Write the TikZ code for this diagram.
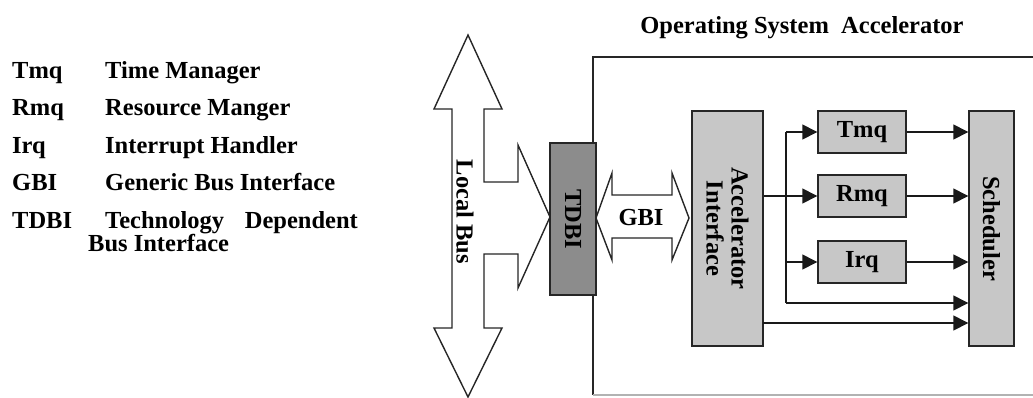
\documentclass[tikz,border=0pt]{standalone}
\usepackage{fontspec}
\setmainfont{Liberation Serif}
\usetikzlibrary{arrows.meta}
\begin{document}
\begin{tikzpicture}[x=1pt,y=-1pt,
  lbl/.style={font=\fontsize{24.5}{25}\selectfont\bfseries, inner sep=0pt},
  legend/.style={lbl, anchor=base west},
  blk/.style={draw=black!85, line width=1.4pt, fill=black!22, inner sep=0pt,
              font=\fontsize{24.5}{25}\selectfont\bfseries, align=center},
  darkblk/.style={blk, fill=black!45},
  busarrow/.style={draw=black!85, line width=1.4pt, fill=white, line join=miter},
  flow/.style={draw=black!90, line width=1.4pt, -{Triangle[length=15pt,width=15pt]}},
  wire/.style={draw=black!90, line width=1.4pt}
]
\useasboundingbox (0,0) rectangle (1033,397);

% legend
\node[legend] (ab1) at (12,78)  {Tmq};
\node[legend] (de1) at (105,78) {Time Manager};
\node[legend] (ab2) at (12,115.5)  {Rmq};
\node[legend] (de2) at (105,115.5) {Resource Manger};
\node[legend] (ab3) at (12,153)  {Irq};
\node[legend] (de3) at (105,153) {Interrupt Handler};
\node[legend] (ab4) at (12,190.5)  {GBI};
\node[legend] (de4) at (105,190.5) {Generic Bus Interface};
\node[legend] (ab5) at (12,228)  {TDBI};
\node[legend] (de5) at (105,228) {Technology};
\node[lbl, anchor=base east] (de5b) at (358,228) {Dependent};
\node[legend] (de5c) at (88,251) {Bus Interface};

% title and accelerator frame
\node[lbl, anchor=base] (title) at (802,33) {Operating System\ \ Accelerator};
\draw[line width=1.4pt, black!85] (1040,57) -- (593,57) -- (593,395);
\draw[line width=1.2pt, black!30] (593,395) -- (1040,395);

% local bus with its branch towards the TDBI
\draw[busarrow] (468,35) -- (502,109) -- (484,109) -- (484,182) -- (518,182)
  -- (518,145) -- (550,217) -- (518,288) -- (518,254) -- (484,254)
  -- (484,328) -- (502,328) -- (468,397) -- (434,328) -- (452,328)
  -- (452,109) -- (434,109) -- cycle;
\node[lbl, rotate=-90] (lbus) at (465,212) {Local Bus};

% generic bus interface
\draw[busarrow] (596,218) -- (612,173) -- (612,195) -- (672,195) -- (672,173)
  -- (689,218) -- (672,260) -- (672,238) -- (612,238) -- (612,260) -- cycle;
\node[lbl] (gbi) at (641,218) {GBI};

% blocks (rotated ones: width runs vertically, north faces right)
\node[darkblk, minimum width=152pt, minimum height=46pt, rotate=-90] (tdbi) at (573,219) {TDBI};
\node[blk, minimum width=235pt, minimum height=71pt, rotate=-90] (accel) at (727.5,228.5) {Accelerator\\Interface};
\node[blk, minimum width=88pt, minimum height=42pt] (tmq) at (862,132) {Tmq};
\node[blk, minimum width=88pt, minimum height=42pt] (rmq) at (862,196) {Rmq};
\node[blk, minimum width=88pt, minimum height=42pt] (irq) at (862,262) {Irq};
\node[blk, minimum width=235pt, minimum height=45pt, rotate=-90] (sched) at (991.5,228.5) {Scheduler};

% connections
\coordinate (jt) at (786,132);
\coordinate (jb) at (786,303);
\coordinate (lowA) at (763,323);
\draw[wire] (jt) -- (jb);
\draw[flow] (accel.north |- rmq.west) -- (rmq.west);
\draw[flow] (jt) -- (tmq.west);
\draw[flow] (jt |- irq.west) -- (irq.west);
\draw[flow] (tmq.east) -- (sched.south |- tmq.east);
\draw[flow] (rmq.east) -- (sched.south |- rmq.east);
\draw[flow] (irq.east) -- (sched.south |- irq.east);
\draw[flow] (jb) -- (sched.south |- jb);
\draw[flow] (lowA) -- (sched.south |- lowA);
\end{tikzpicture}
\end{document}
